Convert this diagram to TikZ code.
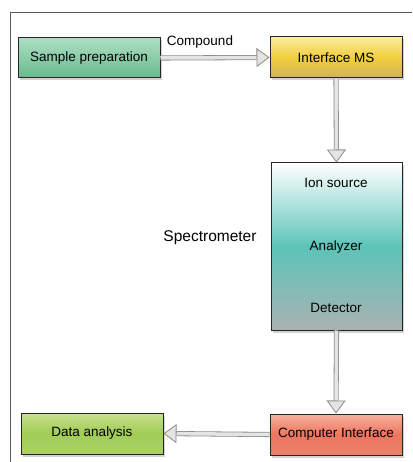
\documentclass[tikz,border=0pt]{standalone}
\usepackage{fontspec}
\setmainfont{Liberation Sans}
\usetikzlibrary{arrows.meta,shadows}
\definecolor{frame}{RGB}{90,90,90}
\definecolor{sampT}{RGB}{172,222,196}
\definecolor{sampB}{RGB}{104,186,140}
\definecolor{imsT}{RGB}{248,236,160}
\definecolor{imsM}{RGB}{242,206,60}
\definecolor{imsB}{RGB}{206,178,96}
\definecolor{specM}{RGB}{92,196,184}
\definecolor{specB}{RGB}{170,178,178}
\definecolor{ciT}{RGB}{248,178,160}
\definecolor{ciM}{RGB}{238,116,94}
\definecolor{ciB}{RGB}{232,130,108}
\definecolor{daT}{RGB}{200,226,140}
\definecolor{daM}{RGB}{160,204,86}
\definecolor{daB}{RGB}{172,210,104}
\definecolor{pipeC}{RGB}{140,140,140}
\definecolor{pipeF}{RGB}{228,228,228}
\begin{document}
\begin{tikzpicture}[x=1pt,y=-1pt,
  box/.style={draw=black!85, line width=1pt, minimum width=#1, inner sep=0pt,
    drop shadow={opacity=0.35, shadow xshift=1.5pt, shadow yshift=-2.5pt}, font=\fontsize{13.5}{15}\selectfont},
  lbl/.style={inner sep=0pt, font=\fontsize{13.5}{15}\selectfont},
  pipe/.style={draw=pipeC, line width=0.8pt, double=pipeF, double distance=3.5pt,
    -{Triangle[open, length=13pt, width=19pt, fill=pipeF, line width=0.8pt]}}]
\useasboundingbox (0,0) rectangle (412,462);
\fill[white] (0,0) rectangle (412,462);
\draw[frame, line width=0.9pt] (10,462) -- (10,12) -- (412,12);
\node[box=142pt, minimum height=40pt, top color=sampT, bottom color=sampB] (sample) at (89,58) {Sample preparation};
\node[box=132pt, minimum height=41pt, top color=imsT, bottom color=imsB, middle color=imsM] (ims) at (336,57.5) {Interface MS};
\node[box=131pt, minimum height=167pt, top color=white, bottom color=specB, middle color=specM] (spec) at (336.5,246.5) {};
\node[lbl] (ion) at (336,183) {Ion source};
\node[lbl] (ana) at (336,247) {Analyzer};
\node[lbl] (det) at (336,308) {Detector};
\node[box=132pt, minimum height=41pt, top color=ciT, bottom color=ciB, middle color=ciM] (ci) at (336,434.5) {Computer Interface};
\node[box=142pt, minimum height=41pt, top color=daT, bottom color=daB, middle color=daM] (da) at (92,433.5) {Data analysis};
\node[lbl, font=\fontsize{15.5}{17}\selectfont] (specl) at (210,238) {Spectrometer};
\node[lbl] (comp) at (200,42) {Compound};
\draw[pipe] (sample.east) -- (ims.west);
\draw[pipe] (ims.south) -- (spec.north);
\draw[pipe] (spec.south) -- (ci.north);
\draw[pipe] (ci.west) -- (da.east);
\end{tikzpicture}
\end{document}
